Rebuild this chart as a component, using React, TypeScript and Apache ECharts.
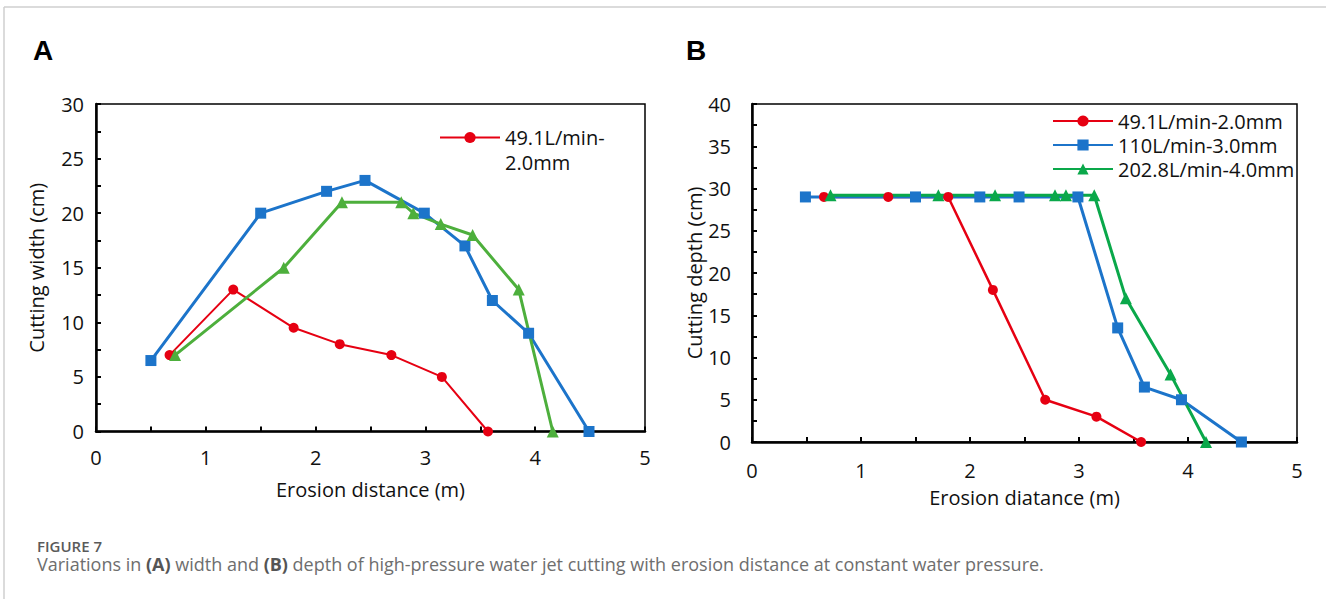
import React, { useEffect, useRef } from "react";
import * as echarts from "echarts";

// ---- Panel A: cutting width (cm) vs erosion distance (m)
const distA_red = [0.67, 1.25, 1.8, 2.22, 2.69, 3.15, 3.57];
const widthA_red = [7, 13, 9.5, 8, 7, 5, 0];
const distA_blue = [0.5, 1.5, 2.1, 2.45, 2.99, 3.36, 3.61, 3.94, 4.49];
const widthA_blue = [6.5, 20, 22, 23, 20, 17, 12, 9, 0];
const distA_green = [0.72, 1.71, 2.24, 2.78, 2.89, 3.14, 3.43, 3.85, 4.16];
const widthA_green = [7, 15, 21, 21, 20, 19, 18, 13, 0];

// ---- Panel B: cutting depth (cm) vs erosion distance (m)
const distB_red = [0.66, 1.25, 1.8, 2.21, 2.69, 3.16, 3.57];
const depthB_red = [29, 29, 29, 18, 5, 3, 0];
const distB_blue = [0.49, 1.5, 2.09, 2.45, 2.99, 3.355, 3.6, 3.94, 4.49];
const depthB_blue = [29, 29, 29, 29, 29, 13.5, 6.5, 5, 0];
const distB_green = [0.72, 1.71, 2.23, 2.78, 2.88, 3.14, 3.43, 3.84, 4.165];
const depthB_green = [29.2, 29.2, 29.2, 29.2, 29.2, 29.2, 17, 8, 0];

const seriesNames = ["49.1L/min-2.0mm", "110L/min-3.0mm", "202.8L/min-4.0mm"];
const legendA_lines = ["49.1L/min-", "2.0mm"];
const xTicks = [0, 1, 2, 3, 4, 5];
const yTicksA = [0, 5, 10, 15, 20, 25, 30];
const yTicksB = [0, 5, 10, 15, 20, 25, 30, 35, 40];

const panelLabels = ["A", "B"];
const xNameA = "Erosion distance (m)";
const xNameB = "Erosion diatance (m)";
const yNameA = "Cutting width (cm)";
const yNameB = "Cutting depth (cm)";
const figureLabel = "FIGURE 7";
const captionText =
  "Variations in {b|(A)} width and {b|(B)} depth of high-pressure water jet cutting with erosion distance at constant water pressure.";

const RED = "#E60012";
const BLUE = "#1C74CA";
const GREEN_A = "#4DAF3C";
const GREEN_B = "#0AA84A";
const FONT = "'Open Sans', 'Noto Sans', sans-serif";

const zip = (xs: number[], ys: number[]) => xs.map((x, i) => [x, ys[i]]);

function xAxis(gridIndex: number, name: string, labelMargin: number, nameGap: number) {
  return {
    type: "value",
    gridIndex,
    min: xTicks[0],
    max: xTicks[xTicks.length - 1],
    interval: 0.5,
    name,
    nameLocation: "middle",
    nameGap,
    nameTextStyle: { fontSize: 20, color: "#111", fontFamily: FONT },
    axisLine: { show: true, lineStyle: { color: "#000", width: 2.5 } },
    axisTick: { show: true, inside: true, length: 5, lineStyle: { color: "#000", width: 2 } },
    axisLabel: {
      fontSize: 20,
      color: "#111",
      fontFamily: FONT,
      margin: labelMargin,
      formatter: (v: number) => (xTicks.includes(v) ? String(v) : ""),
    },
    splitLine: { show: false },
  };
}

function yAxis(gridIndex: number, name: string, ticks: number[], labelMargin: number, nameGap: number) {
  return {
    type: "value",
    gridIndex,
    min: ticks[0],
    max: ticks[ticks.length - 1],
    interval: 2.5,
    name,
    nameLocation: "middle",
    nameGap,
    nameTextStyle: { fontSize: 20, color: "#111", fontFamily: FONT },
    axisLine: { show: true, lineStyle: { color: "#000", width: 2.5 } },
    axisTick: { show: true, inside: true, length: 5, lineStyle: { color: "#000", width: 2 } },
    axisLabel: {
      fontSize: 20,
      color: "#111",
      fontFamily: FONT,
      margin: labelMargin,
      formatter: (v: number) => (ticks.includes(v) ? String(v) : ""),
    },
    splitLine: { show: false },
  };
}

function lineSeries(
  name: string,
  axisIndex: number,
  data: number[][],
  color: string,
  symbol: string,
  symbolSize: number,
  width: number
) {
  return {
    type: "line",
    name,
    xAxisIndex: axisIndex,
    yAxisIndex: axisIndex,
    data,
    symbol,
    symbolSize,
    showSymbol: true,
    clip: false,
    color,
    itemStyle: { color },
    lineStyle: { color, width },
  };
}

export default function App() {
  const ref = useRef<HTMLDivElement>(null);

  useEffect(() => {
    if (!ref.current) return;
    const chart = echarts.init(ref.current, undefined, { renderer: "svg" });
    const nameA = (n: string) => "A: " + n;

    const option: any = {
      animation: false,
      backgroundColor: "#fff",
      textStyle: { fontFamily: FONT },
      grid: [
        { left: 96, top: 104, width: 549, height: 327.5, show: true, borderColor: "#000", borderWidth: 1.5, backgroundColor: "transparent" },
        { left: 752, top: 104, width: 545, height: 338, show: true, borderColor: "#000", borderWidth: 1.5, backgroundColor: "transparent" },
      ],
      xAxis: [xAxis(0, xNameA, 16, 48), xAxis(1, xNameB, 18, 45)],
      yAxis: [yAxis(0, yNameA, yTicksA, 12, 50), yAxis(1, yNameB, yTicksB, 21, 48)],
      legend: [
        {
          data: [nameA(seriesNames[0])],
          left: 439,
          top: 100,
          padding: 0,
          itemWidth: 60,
          itemHeight: 14,
          selectedMode: false,
          formatter: () => "\n" + legendA_lines.join("\n"),
          textStyle: { fontSize: 20, lineHeight: 25, color: "#111", fontFamily: FONT },
        },
        {
          data: seriesNames,
          orient: "vertical",
          left: 1052,
          top: 111,
          padding: 0,
          itemGap: 4,
          itemWidth: 60,
          itemHeight: 14,
          selectedMode: false,
          textStyle: { fontSize: 20, lineHeight: 20, color: "#111", fontFamily: FONT },
        },
      ],
      series: [
        lineSeries(nameA(seriesNames[0]), 0, zip(distA_red, widthA_red), RED, "circle", 10, 2),
        lineSeries(nameA(seriesNames[1]), 0, zip(distA_blue, widthA_blue), BLUE, "rect", 11, 3),
        lineSeries(nameA(seriesNames[2]), 0, zip(distA_green, widthA_green), GREEN_A, "triangle", 12, 3),
        lineSeries(seriesNames[0], 1, zip(distB_red, depthB_red), RED, "circle", 10, 2.5),
        lineSeries(seriesNames[1], 1, zip(distB_blue, depthB_blue), BLUE, "rect", 11, 3),
        lineSeries(seriesNames[2], 1, zip(distB_green, depthB_green), GREEN_B, "triangle", 12, 3),
      ],
      graphic: [
        { type: "line", shape: { x1: 4, y1: 7, x2: 1326, y2: 7 }, style: { stroke: "#cfcfcf", lineWidth: 1.5 }, silent: true },
        { type: "line", shape: { x1: 4, y1: 7, x2: 4, y2: 599 }, style: { stroke: "#cfcfcf", lineWidth: 1.5 }, silent: true },
        {
          type: "text",
          x: 33,
          y: 50,
          style: { text: panelLabels[0], fontSize: 28, fontWeight: "bold", fontFamily: "'Liberation Sans', Arial, sans-serif", fill: "#000", verticalAlign: "middle" },
        },
        {
          type: "text",
          x: 686,
          y: 50,
          style: { text: panelLabels[1], fontSize: 28, fontWeight: "bold", fontFamily: "'Liberation Sans', Arial, sans-serif", fill: "#000", verticalAlign: "middle" },
        },
        {
          type: "text",
          x: 37,
          y: 545.5,
          style: { text: figureLabel, fontSize: 15, lineHeight: 15, fontWeight: 600, fontFamily: FONT, fill: "#5a5a5a", verticalAlign: "middle" },
        },
        {
          type: "text",
          x: 37,
          y: 564,
          style: {
            text: captionText,
            fontSize: 18,
            lineHeight: 18,
            fontFamily: FONT,
            fill: "#6e6e6e",
            verticalAlign: "middle",
            rich: {
              b: { fontSize: 18, lineHeight: 18, fontFamily: FONT, fontWeight: "bold", fill: "#555" },
            },
          },
        },
      ],
    };

    chart.setOption(option);
    return () => chart.dispose();
  }, []);

  return (
    <div
      ref={ref}
      style={{ position: "absolute", left: 0, top: 0, width: 1326, height: 599, background: "#fff" }}
    />
  );
}
